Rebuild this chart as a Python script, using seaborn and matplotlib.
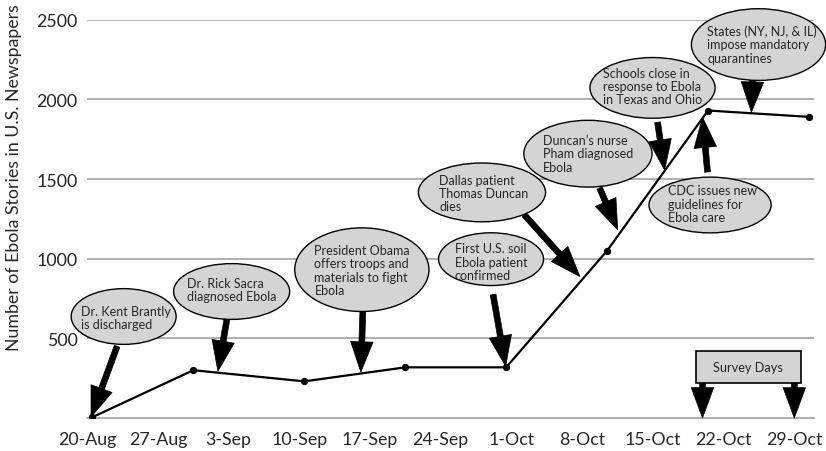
import matplotlib
matplotlib.use("Agg")
import matplotlib.pyplot as plt
import matplotlib.dates as mdates
from matplotlib.patches import Ellipse, Rectangle
import seaborn as sns
import pandas as pd

# data (points sit at noon of each date)
dates = ["2014-08-20 12:00", "2014-08-30 12:00", "2014-09-10 12:00", "2014-09-20 12:00",
         "2014-09-30 12:00", "2014-10-10 12:00", "2014-10-20 12:00", "2014-10-30 12:00"]
stories = [5, 300, 230, 318, 318, 1050, 1930, 1890]

tick_dates = pd.date_range("2014-08-20", "2014-10-29", freq="7D")
tick_labels = ["20-Aug", "27-Aug", "3-Sep", "10-Sep", "17-Sep", "24-Sep",
               "1-Oct", "8-Oct", "15-Oct", "22-Oct", "29-Oct"]
y_ticks = [500, 1000, 1500, 2000, 2500]

events = [
    "Dr. Kent Brantly\nis discharged",
    "Dr. Rick Sacra\ndiagnosed Ebola",
    "President Obama\noffers troops and\nmaterials to fight\nEbola",
    "First U.S. soil\nEbola patient\nconfirmed",
    "Dallas patient\nThomas Duncan\ndies",
    "Duncan\u2019s nurse\nPham diagnosed\nEbola",
    "Schools close in\nresponse to Ebola\nin Texas and Ohio",
    "CDC issues new\nguidelines for\nEbola care",
    "States (NY, NJ, & IL)\nimpose mandatory\nquarantines",
]

# layout of the bubbles: (centre day, centre value, width days, height value)
bubbles = [(3.6, 637, 10.4, 350), (14.3, 794, 11.5, 350), (27.2, 931, 13.3, 525),
           (40.0, 997, 10.4, 331), (39.1, 1416, 12.6, 369), (49.6, 1659, 12.7, 419),
           (56.0, 2072, 12.4, 381), (61.7, 1337, 12.1, 350), (66.5, 2344, 13.3, 450)]
# text left edge (day) and vertical centre
text_pos = [(-0.6, 631), (9.9, 806), (22.5, 928), (36.4, 981), (34.85, 1412),
            (45.15, 1662), (51.1, 2084), (57.5, 1344), (61.4, 2347)]
# arrows: tail -> tip
arrows = [((2.95, 450), (0.37, 6)), ((13.83, 619), (12.94, 294)), ((27.3, 669), (27.1, 288)),
          ((40.2, 775), (41.45, 325)), ((43.3, 1275), (48.8, 888)), ((50.75, 1444), (52.55, 1181)),
          ((56.5, 1856), (57.2, 1556)), ((61.45, 1544), (60.95, 1888)), ((65.9, 2119), (65.8, 1919))]

sns.set_style("white")
plt.rcParams["font.family"] = ["Lato", "DejaVu Sans"]

df = pd.DataFrame({"date": pd.to_datetime(dates), "stories": stories})

fig = plt.figure(figsize=(8.26, 4.52), dpi=100)
ax = fig.add_axes([0.1057, 0.073, 0.8798, 0.8812])

sns.lineplot(data=df, x="date", y="stories", ax=ax, color="black", lw=1.6,
             marker="o", markersize=4.5, markeredgecolor="black", zorder=3)

start = mdates.date2num(pd.Timestamp("2014-08-20"))
ax.set_xlim(start, start + 72)
ax.set_ylim(0, 2500)

ax.set_xticks(mdates.date2num(tick_dates))
ax.set_xticklabels(tick_labels, fontsize=12.8)
ax.set_yticks(y_ticks)
ax.set_yticklabels([str(v) for v in y_ticks], fontsize=12.8)
ax.yaxis.grid(True, color="#9a9a9a", lw=1.1)
ax.set_axisbelow(True)
for s in ["left", "top", "right"]:
    ax.spines[s].set_visible(False)
ax.spines["bottom"].set_color("#9a9a9a")
ax.spines["bottom"].set_linewidth(1.1)
ax.tick_params(axis="x", direction="out", length=6, width=1.1, color="#9a9a9a", pad=3)
ax.tick_params(axis="y", length=0, pad=7)
ax.set_xlabel("")
ax.set_ylabel("")
fig.text(14 / 826, 1 - 178 / 452, "Number of Ebola Stories in U.S. Newspapers",
         rotation=90, ha="center", va="center", fontsize=12.8)

# filled arrows: thick shaft, sharp wide head
akw = dict(arrowstyle="simple,head_length=1.15,head_width=0.85,tail_width=0.22",
           fc="black", ec="black", lw=0.5, shrinkA=0, shrinkB=0, mutation_scale=19)

for txt, (cx, cy, w, h), (tx, ty), (tail, tip) in zip(events, bubbles, text_pos, arrows):
    e = Ellipse((start + cx, cy), w, h, fc="#d4d4d4", ec="black", lw=1, zorder=5, clip_on=False)
    ax.add_patch(e)
    ax.text(start + tx, ty, txt, ha="left", va="center", fontsize=9, linespacing=1.14,
            zorder=6, clip_on=False)
    ax.annotate("", xy=(start + tip[0], tip[1]), xytext=(start + tail[0], tail[1]),
                arrowprops=akw, zorder=7, annotation_clip=False)

# survey days box
ax.add_patch(Rectangle((start + 60.27, 219), 10.4, 200, fc="#d4d4d4", ec="black", lw=1.2, zorder=5))
ax.text(start + 65.47, 319, "Survey Days", ha="center", va="center", fontsize=9.2, zorder=6)
for d in [60.95, 70.05]:
    ax.annotate("", xy=(start + d, 0), xytext=(start + d, 219), arrowprops=akw, zorder=7,
                annotation_clip=False)

fig.savefig("out.png", dpi=100)
